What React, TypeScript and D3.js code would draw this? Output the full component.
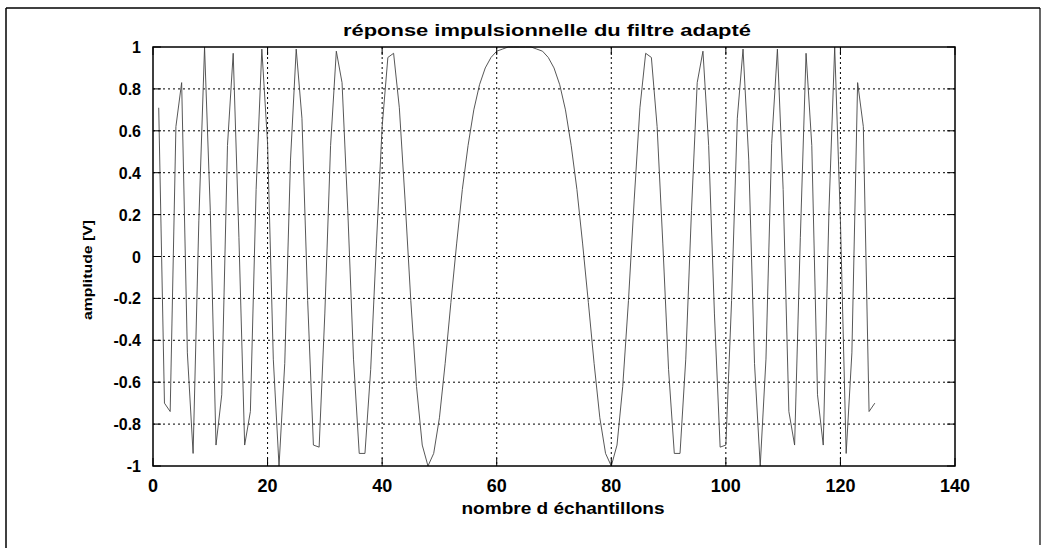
import React from "react";
import * as d3 from "d3";

const samples: number[] = [
  1, 2, 3, 4, 5, 6, 7, 8, 9, 10, 11, 12, 13, 14, 15, 16, 17, 18, 19, 20,
  21, 22, 23, 24, 25, 26, 27, 28, 29, 30, 31, 32, 33, 34, 35, 36, 37, 38, 39, 40,
  41, 42, 43, 44, 45, 46, 47, 48, 49, 50, 51, 52, 53, 54, 55, 56, 57, 58, 59, 60,
  61, 62, 63, 64, 65, 66, 67, 68, 69, 70, 71, 72, 73, 74, 75, 76, 77, 78, 79, 80,
  81, 82, 83, 84, 85, 86, 87, 88, 89, 90, 91, 92, 93, 94, 95, 96, 97, 98, 99, 100,
  101, 102, 103, 104, 105, 106, 107, 108, 109, 110, 111, 112, 113, 114, 115, 116, 117, 118, 119, 120,
  121, 122, 123, 124, 125, 126,
];

const amplitude: number[] = [
  0.71, -0.70, -0.74, 0.62, 0.83, -0.46, -0.94, 0.17, 1.00, 0.22,
  -0.90, -0.66, 0.53, 0.97, 0.09, -0.90, -0.74, 0.32, 0.99, 0.54,
  -0.49, -1.00, -0.51, 0.46, 0.99, 0.66, -0.21, -0.90, -0.91, -0.27,
  0.53, 0.98, 0.83, 0.22, -0.49, -0.94, -0.94, -0.54, 0.06, 0.62,
  0.95, 0.97, 0.71, 0.27, -0.21, -0.62, -0.90, -1.00, -0.94, -0.77,
  -0.51, -0.22, 0.06, 0.32, 0.53, 0.70, 0.82, 0.90, 0.95, 0.98,
  0.99, 1.00, 1.00, 1.00, 1.00, 1.00, 0.99, 0.98, 0.95, 0.90,
  0.82, 0.70, 0.53, 0.32, 0.06, -0.22, -0.51, -0.77, -0.94, -1.00,
  -0.90, -0.62, -0.21, 0.27, 0.71, 0.97, 0.95, 0.62, 0.06, -0.54,
  -0.94, -0.94, -0.49, 0.22, 0.83, 0.98, 0.53, -0.27, -0.91, -0.90,
  -0.21, 0.66, 0.99, 0.46, -0.51, -1.00, -0.49, 0.54, 0.99, 0.32,
  -0.74, -0.90, 0.09, 0.97, 0.53, -0.66, -0.90, 0.22, 1.00, 0.17,
  -0.94, -0.46, 0.83, 0.62, -0.74, -0.70,
];

const xTicks: number[] = [0, 20, 40, 60, 80, 100, 120, 140];
const yTicks: number[] = [-1, -0.8, -0.6, -0.4, -0.2, 0, 0.2, 0.4, 0.6, 0.8, 1];

const titleText = "réponse impulsionnelle du filtre adapté";
const xLabelText = "nombre d échantillons";
const yLabelText = "amplitude [V]";

const W = 1045;
const H = 553;
const L = 153;
const R = 955;
const T = 47;
const B = 466;

export default function App() {
  const x = d3.scaleLinear().domain([0, 140]).range([L, R]);
  const y = d3.scaleLinear().domain([-1, 1]).range([B, T]);
  const data = samples.map((s, i) => [s, amplitude[i]] as [number, number]);
  const line = d3
    .line<[number, number]>()
    .x((d) => x(d[0]))
    .y((d) => y(d[1]));
  const fmt = (v: number) => (v === 0 ? "0" : String(Math.round(v * 10) / 10));
  const font = "'Liberation Sans', Arial, Helvetica, sans-serif";
  const tick = 8;

  return (
    <svg
      width={W}
      height={H}
      style={{ position: "absolute", left: 0, top: 0, background: "#fff" }}
    >
      <rect x={0} y={0} width={W} height={H} fill="#fff" />
      {/* scanned page frame */}
      <line x1={6} y1={8} x2={1040} y2={8} stroke="#000" strokeWidth={1.5} />
      <line x1={6} y1={8} x2={6} y2={548} stroke="#000" strokeWidth={1.5} />
      <line x1={1040} y1={8} x2={1040} y2={545} stroke="#000" strokeWidth={1.2} />

      {/* grid */}
      {xTicks.slice(1, -1).map((t) => (
        <line
          key={"gx" + t}
          x1={x(t)}
          x2={x(t)}
          y1={T}
          y2={B}
          stroke="#000"
          strokeWidth={1}
          strokeDasharray="2,3"
        />
      ))}
      {yTicks.slice(1, -1).map((t) => (
        <line
          key={"gy" + t}
          x1={L}
          x2={R}
          y1={y(t)}
          y2={y(t)}
          stroke="#000"
          strokeWidth={1}
          strokeDasharray="2,3"
        />
      ))}

      {/* curve */}
      <path d={line(data) || ""} fill="none" stroke="#444" strokeWidth={0.9} />

      {/* box */}
      <rect x={L} y={T} width={R - L} height={B - T} fill="none" stroke="#000" strokeWidth={1.5} />

      {/* ticks */}
      {xTicks.map((t) => (
        <g key={"tx" + t}>
          <line x1={x(t)} x2={x(t)} y1={B} y2={B - tick} stroke="#000" strokeWidth={1} />
          <line x1={x(t)} x2={x(t)} y1={T} y2={T + tick} stroke="#000" strokeWidth={1} />
          <text
            x={x(t)}
            y={B + 26}
            textAnchor="middle"
            fontFamily={font}
            fontWeight="bold"
            fontSize={18}
          >
            {t}
          </text>
        </g>
      ))}
      {yTicks.map((t) => (
        <g key={"ty" + t}>
          <line x1={L} x2={L + tick} y1={y(t)} y2={y(t)} stroke="#000" strokeWidth={1} />
          <line x1={R} x2={R - tick} y1={y(t)} y2={y(t)} stroke="#000" strokeWidth={1} />
          <text
            x={L - 12}
            y={y(t) + 6}
            textAnchor="end"
            fontFamily={font}
            fontWeight="bold"
            fontSize={16}
          >
            {fmt(t)}
          </text>
        </g>
      ))}

      <text
        x={547}
        y={36}
        textAnchor="middle"
        fontFamily={font}
        fontSize={17}
        fontWeight="bold"
        textLength={408}
        lengthAdjust="spacingAndGlyphs"
      >
        {titleText}
      </text>
      <text
        x={563}
        y={514}
        textAnchor="middle"
        fontFamily={font}
        fontSize={17}
        fontWeight="bold"
        textLength={203}
        lengthAdjust="spacingAndGlyphs"
      >
        {xLabelText}
      </text>
      <text
        transform={`translate(${92},${270}) rotate(-90)`}
        textAnchor="middle"
        fontFamily={font}
        fontSize={13}
        fontWeight="bold"
        textLength={100}
        lengthAdjust="spacingAndGlyphs"
      >
        {yLabelText}
      </text>
    </svg>
  );
}
